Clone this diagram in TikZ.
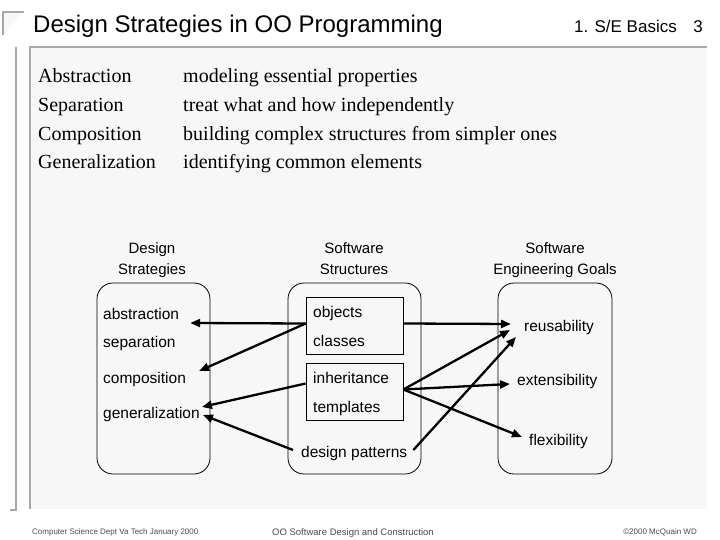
\documentclass[tikz,border=0pt]{standalone}
\usepackage{fontspec}
\setmainfont{Liberation Serif}
\setsansfont{Liberation Sans}
\usetikzlibrary{arrows.meta,calc}
\definecolor{panel}{HTML}{F7F7F7}
\definecolor{rule}{HTML}{A8A8A8}
\tikzset{
  item/.style={font=\sffamily\fontsize{15.5}{18}\selectfont, inner sep=0pt, anchor=base west},
  hdr/.style={font=\sffamily\fontsize{15}{21}\selectfont, align=center, inner sep=0pt, anchor=north},
  grp/.style={draw, rounded corners=16pt, line width=0.8pt, minimum height=191pt},
  sbox/.style={draw, line width=0.8pt, minimum width=97pt, minimum height=57pt},
  link/.style={line width=2.3pt, -{Triangle[length=10pt,width=8pt]}},
  term/.style={font=\fontsize{20}{24}\selectfont, inner sep=0pt, anchor=base west},
  foot/.style={font=\sffamily\fontsize{8}{10}\selectfont, text=black!70, inner sep=0pt}
}
\begin{document}
\begin{tikzpicture}[x=1pt,y=-1pt]
  \useasboundingbox[fill=white] (0,0) rectangle (720,540);
  \fill[panel] (30,47) rectangle (707,509);
  \draw[rule, line width=1.6pt] (30,509) -- (30,47) -- (707,47);
  \draw[rule, line width=1.2pt] (10,510) -- (16,510) -- (16,47);
  \draw[rule, line width=1.2pt, fill=panel] (3,35) -- (3,12) -- (24,12);

  \node[font=\sffamily\fontsize{24}{28}\selectfont, anchor=base west, inner sep=0pt] (title) at (33,33) {Design Strategies in OO Programming};
  \node[font=\sffamily\fontsize{17}{22}\selectfont, anchor=base east, inner sep=0pt] (chap) at (677,33) {1. S/E Basics};
  \node[font=\sffamily\fontsize{17}{22}\selectfont, anchor=base east, inner sep=0pt] (page) at (703,33) {3};

  \node[term] (tabs) at (38,83) {Abstraction};
  \node[term] (tsep) at (38,112) {Separation};
  \node[term] (tcomp) at (38,141) {Composition};
  \node[term] (tgen) at (38,169) {Generalization};
  \node[term] (dabs) at (183,83) {modeling essential properties};
  \node[term] (dsep) at (183,112) {treat what and how independently};
  \node[term] (dcomp) at (183,141) {building complex structures from simpler ones};
  \node[term] (dgen) at (183,169) {identifying common elements};

  \node[hdr] (hds) at (152,242) {Design\\Strategies};
  \node[hdr] (hss) at (354,242) {Software\\Structures};
  \node[hdr] (hsg) at (555,242) {Software\\Engineering Goals};

  \node[grp, minimum width=113pt] (ds) at (153.5,378.5) {};
  \node[grp, minimum width=133pt] (ss) at (354.5,378.5) {};
  \node[grp, minimum width=114pt] (sg) at (555,378.5) {};
  \node[sbox] (oc) at (354.5,325.5) {};
  \node[sbox] (it) at (354.5,391.5) {};

  \node[item] (abs) at (103,319) {abstraction};
  \node[item] (sep) at (103,347) {separation};
  \node[item] (comp) at (103,383) {composition};
  \node[item] (gen) at (103,418) {generalization};

  \node[item] (obj) at (313,317) {objects};
  \node[item] (cls) at (313,346) {classes};
  \node[item] (inh) at (313,383) {inheritance};
  \node[item] (tpl) at (313,412) {templates};
  \node[item] (dp) at (301,457) {design patterns};

  \node[item] (reu) at (524,331) {reusability};
  \node[item] (ext) at (517,385) {extensibility};
  \node[item] (flex) at (529,445) {flexibility};

  \draw[link] ($(oc.west)+(0,-2)$) -- ($(abs.base east)+(11,4)$);
  \draw[link] ($(oc.west)+(0,-2)$) -- ($(comp.base east)+(13,-12)$);
  \draw[link] ($(it.west)+(0,-8)$) -- ($(gen.east)+(2,-7)$);
  \draw[link] ($(dp.west)+(-8,-3)$) -- ($(gen.east)+(3,1)$);
  \draw[link] ($(oc.east)+(0,-2)$) -- ($(reu.west)+(-13,-3)$);
  \draw[link] ($(it.east)+(0,-2)$) -- ($(reu.west)+(-14,3)$);
  \draw[link] ($(it.east)+(0,-2)$) -- ($(ext.west)+(-7,3)$);
  \draw[link] ($(it.east)+(0,-2)$) -- ($(flex.west)+(-7,-4)$);
  \draw[link] ($(dp.east)+(6,-3)$) -- ($(reu.west)+(-8,10)$);

  \node[foot, anchor=base west] (fl) at (32,534) {Computer Science Dept Va Tech January 2000};
  \node[foot, anchor=base, font=\sffamily\fontsize{9.5}{11}\selectfont] (fc) at (353,535) {OO Software Design and Construction};
  \node[foot, anchor=base east] (fr) at (697,534) {\char"00A9 2000 McQuain WD};
\end{tikzpicture}
\end{document}
